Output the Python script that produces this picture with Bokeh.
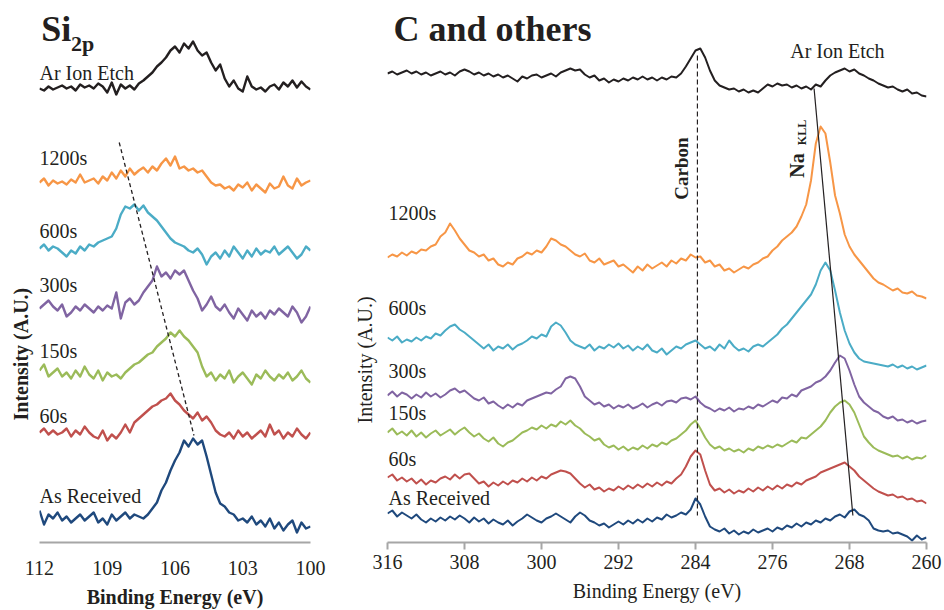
from math import pi
from bokeh.plotting import figure
from bokeh.layouts import row
from bokeh.models import Range1d, FixedTicker, Label, Title
from bokeh.embed import file_html
from bokeh.resources import INLINE

# ---------------- Si 2p panel data (binding energy in eV, intensity in A.U., stacked) -------------
si_energy = [112.0, 111.8, 111.6, 111.4, 111.2, 111.0, 110.8, 110.6, 110.4, 110.2,
             110.0, 109.8, 109.6, 109.4, 109.2, 109.0, 108.8, 108.6, 108.4, 108.2,
             108.0, 107.8, 107.6, 107.4, 107.2, 107.0, 106.8, 106.6, 106.4, 106.2,
             106.0, 105.8, 105.6, 105.4, 105.2, 105.0, 104.8, 104.6, 104.4, 104.2,
             104.0, 103.8, 103.6, 103.4, 103.2, 103.0, 102.8, 102.6, 102.4, 102.2,
             102.0, 101.8, 101.6, 101.4, 101.2, 101.0, 100.8, 100.6, 100.4, 100.2,
             100.0]
si_ar_etch = [512, 510, 514, 511, 513, 515, 512, 514, 510, 516,
              513, 515, 512, 517, 514, 508, 518, 506, 516, 512,
              515, 511, 517, 520, 524, 528, 534, 538, 543, 550,
              554, 548, 557, 552, 559, 550, 545, 548, 538, 530,
              536, 522, 514, 520, 512, 509, 524, 514, 511, 513,
              509, 514, 516, 511, 518, 514, 520, 513, 519, 514,
              511]
si_1200s = [418, 422, 415, 420, 417, 419, 416, 421, 418, 426,
            418, 420, 422, 417, 424, 420, 428, 422, 430, 424,
            432, 426, 430, 433, 428, 434, 430, 437, 442, 435,
            444, 432, 434, 430, 432, 428, 430, 424, 418, 415,
            416, 412, 414, 410, 416, 413, 418, 410, 416, 412,
            408, 417, 412, 414, 424, 415, 412, 422, 415, 418,
            420]
si_600s = [352, 356, 350, 354, 352, 348, 344, 350, 347, 354,
           350, 356, 354, 358, 360, 362, 364, 372, 386, 394,
           392, 396, 390, 395, 388, 384, 380, 374, 368, 362,
           358, 356, 354, 350, 348, 352, 346, 336, 344, 348,
           342, 350, 344, 354, 348, 342, 350, 344, 352, 346,
           350, 348, 354, 346, 350, 354, 348, 342, 346, 354,
           350]
si_300s = [292, 296, 300, 294, 290, 296, 284, 288, 294, 290,
           296, 292, 288, 294, 290, 295, 292, 308, 282, 298,
           302, 296, 300, 308, 314, 320, 334, 324, 328, 322,
           330, 326, 330, 320, 310, 302, 290, 296, 304, 294,
           290, 296, 288, 282, 292, 286, 280, 290, 284, 288,
           282, 290, 286, 292, 288, 284, 294, 288, 278, 284,
           294]
si_150s = [230, 236, 224, 228, 232, 224, 228, 222, 230, 224,
           234, 226, 222, 230, 220, 228, 224, 226, 222, 228,
           232, 236, 238, 242, 246, 248, 254, 258, 262, 268,
           264, 270, 264, 260, 254, 248, 234, 224, 228, 220,
           226, 222, 230, 218, 224, 228, 222, 216, 226, 222,
           230, 224, 220, 226, 222, 228, 220, 224, 230, 222,
           218]
si_60s = [168, 172, 166, 170, 166, 168, 172, 164, 170, 166,
          174, 168, 164, 162, 170, 160, 166, 162, 168, 176,
          168, 178, 182, 186, 190, 194, 196, 200, 202, 207,
          200, 196, 190, 186, 182, 188, 180, 184, 178, 170,
          166, 164, 168, 162, 170, 164, 168, 162, 166, 170,
          164, 176, 166, 170, 162, 168, 164, 172, 166, 162,
          168]
si_as_received = [90, 76, 86, 82, 88, 80, 84, 78, 82, 86,
                  80, 84, 88, 78, 82, 76, 86, 80, 84, 88,
                  82, 86, 84, 82, 86, 92, 98, 110, 118, 130,
                  140, 148, 160, 154, 162, 156, 160, 144, 126, 108,
                  97, 94, 88, 86, 80, 82, 78, 84, 76, 80,
                  74, 82, 72, 78, 70, 76, 80, 68, 78, 72,
                  74]
si_ticks = [112, 109, 106, 103, 100]
# peak-shift guide (energy, intensity) at its two ends
si_shift_energy = [108.47, 105.16]
si_shift_intensity = [458, 165]

# ---------------- C and others panel data -------------
c_energy = [316.0, 315.5, 315.0, 314.5, 314.0, 313.5, 313.0, 312.5, 312.0, 311.5,
            311.0, 310.5, 310.0, 309.5, 309.0, 308.5, 308.0, 307.5, 307.0, 306.5,
            306.0, 305.5, 305.0, 304.5, 304.0, 303.5, 303.0, 302.5, 302.0, 301.5,
            301.0, 300.5, 300.0, 299.5, 299.0, 298.5, 298.0, 297.5, 297.0, 296.5,
            296.0, 295.5, 295.0, 294.5, 294.0, 293.5, 293.0, 292.5, 292.0, 291.5,
            291.0, 290.5, 290.0, 289.5, 289.0, 288.5, 288.0, 287.5, 287.0, 286.5,
            286.0, 285.5, 285.0, 284.5, 284.0, 283.5, 283.0, 282.5, 282.0, 281.5,
            281.0, 280.5, 280.0, 279.5, 279.0, 278.5, 278.0, 277.5, 277.0, 276.5,
            276.0, 275.5, 275.0, 274.5, 274.0, 273.5, 273.0, 272.5, 272.0, 271.5,
            271.0, 270.5, 270.0, 269.5, 269.0, 268.5, 268.0, 267.5, 267.0, 266.5,
            266.0, 265.5, 265.0, 264.5, 264.0, 263.5, 263.0, 262.5, 262.0, 261.5,
            261.0, 260.5, 260.0]
c_ar_etch = [527, 529, 526, 528, 530, 527, 529, 526, 528, 525,
             527, 529, 526, 528, 525, 529, 531, 529, 526, 528,
             525, 527, 524, 526, 523, 525, 522, 519, 524, 522,
             525, 526, 523, 525, 527, 524, 528, 530, 532, 530,
             531, 526, 523, 525, 520, 522, 518, 521, 519, 522,
             520, 523, 521, 524, 521, 523, 520, 523, 521, 524,
             523, 527, 534, 542, 550, 552, 543, 530, 520, 515,
             513, 511, 512, 509, 511, 508, 510, 508, 512, 516,
             514, 517, 515, 516, 513, 515, 512, 514, 511, 516,
             514, 520, 525, 528, 530, 532, 529, 531, 527, 525,
             522, 520, 517, 515, 513, 514, 511, 509, 511, 507,
             508, 505, 504]
c_1200s = [343, 346, 344, 348, 345, 349, 347, 351, 350, 354,
           356, 364, 368, 377, 370, 362, 356, 350, 348, 344,
           346, 340, 342, 336, 334, 338, 336, 342, 344, 348,
           346, 350, 348, 354, 362, 360, 356, 354, 350, 346,
           344, 347, 340, 338, 342, 336, 338, 340, 334, 336,
           332, 328, 334, 330, 336, 332, 335, 338, 334, 340,
           337, 342, 340, 346, 343, 344, 338, 340, 334, 336,
           330, 332, 328, 331, 334, 332, 336, 338, 342, 344,
           350, 354, 360, 364, 368, 374, 384, 396, 420, 457,
           474, 467, 438, 405, 387, 366, 354, 346, 340, 334,
           328, 322, 318, 316, 313, 310, 312, 308, 307, 309,
           305, 304, 302]
c_600s = [263, 260, 264, 258, 261, 259, 263, 260, 264, 262,
          267, 265, 270, 274, 276, 271, 268, 264, 260, 256,
          252, 256, 250, 254, 252, 256, 251, 255, 257, 260,
          264, 262, 266, 264, 274, 278, 275, 268, 260, 256,
          254, 252, 256, 250, 254, 252, 256, 253, 257, 252,
          255, 250, 254, 251, 256, 250, 248, 252, 246, 250,
          254, 252, 256, 258, 260, 256, 252, 254, 250, 256,
          252, 260, 254, 250, 252, 249, 254, 256, 254, 258,
          262, 266, 272, 276, 282, 288, 294, 300, 306, 316,
          330, 338, 330, 310, 288, 270, 257, 248, 242, 239,
          238, 237, 236, 235, 234, 236, 233, 235, 232, 234,
          231, 233, 235]
c_300s = [205, 209, 204, 208, 206, 202, 206, 203, 208, 204,
          207, 203, 206, 210, 212, 208, 210, 206, 202, 200,
          203, 197, 199, 195, 192, 196, 193, 197, 195, 200,
          202, 204, 206, 208, 207, 211, 214, 222, 224, 222,
          214, 204, 200, 196, 198, 194, 196, 192, 195, 193,
          196, 192, 194, 197, 193, 196, 198, 195, 199, 200,
          198, 202, 203, 201, 204, 198, 194, 192, 189, 192,
          190, 193, 189, 192, 191, 194, 192, 196, 194, 197,
          200, 198, 203, 202, 206, 204, 210, 212, 214, 218,
          220, 224, 230, 238, 245, 242, 230, 216, 204, 198,
          194, 190, 188, 184, 182, 184, 180, 181, 178, 180,
          177, 179, 180]
c_150s = [168, 172, 166, 169, 165, 170, 164, 168, 163, 167,
          170, 165, 168, 171, 166, 170, 173, 168, 164, 167,
          162, 159, 163, 157, 154, 158, 160, 164, 168, 170,
          173, 171, 175, 172, 176, 174, 179, 176, 180, 175,
          172, 167, 164, 160, 162, 156, 153, 155, 151, 154,
          150, 153, 151, 155, 152, 156, 154, 158, 156, 160,
          162, 166, 170, 176, 180, 172, 163, 156, 152, 154,
          150, 152, 149, 151, 148, 152, 150, 154, 152, 155,
          153, 156, 154, 157, 160, 158, 163, 162, 166, 170,
          174, 180, 188, 194, 198, 200, 196, 188, 176, 164,
          158, 153, 150, 148, 146, 144, 145, 142, 144, 141,
          143, 142, 145]
c_60s = [123, 126, 120, 123, 119, 122, 117, 121, 116, 120,
         118, 122, 124, 121, 126, 122, 126, 127, 122, 117,
         119, 114, 118, 115, 119, 116, 120, 118, 122, 119,
         123, 120, 124, 122, 126, 128, 130, 129, 127, 122,
         117, 113, 116, 111, 113, 109, 112, 110, 114, 111,
         115, 112, 116, 113, 117, 114, 118, 115, 119, 117,
         122, 126, 134, 144, 150, 146, 130, 116, 110, 112,
         108, 111, 107, 110, 108, 112, 109, 113, 110, 114,
         111, 115, 112, 116, 114, 118, 116, 120, 122, 124,
         128, 130, 132, 134, 136, 138, 134, 130, 124, 120,
         116, 112, 109, 107, 105, 106, 103, 104, 101, 102,
         99, 100, 97]
c_as_received = [87, 90, 84, 88, 85, 82, 86, 81, 78, 82,
                 79, 83, 80, 84, 81, 85, 82, 78, 83, 79,
                 82, 77, 81, 78, 76, 80, 75, 79, 82, 86,
                 83, 80, 78, 82, 84, 87, 84, 81, 78, 84,
                 88, 85, 80, 78, 75, 77, 73, 76, 79, 76,
                 80, 77, 81, 78, 82, 79, 83, 81, 86, 83,
                 85, 88, 86, 91, 102, 96, 84, 74, 71, 69,
                 72, 67, 70, 66, 69, 67, 71, 68, 70, 72,
                 69, 73, 71, 75, 73, 77, 74, 78, 76, 80,
                 78, 82, 80, 84, 86, 83, 89, 91, 86, 84,
                 80, 72, 70, 69, 70, 67, 68, 66, 64, 60,
                 65, 61, 63]
c_ticks = [316, 308, 300, 292, 284, 276, 268, 260]
carbon_energy = [283.8, 283.8]
carbon_intensity = [545, 85]
na_kll_energy = [271.68, 267.65]
na_kll_intensity = [512, 85]

series_names = ["Ar Ion Etch", "1200s", "600s", "300s", "150s", "60s", "As Received"]
series_colors = ["#231f20", "#f79646", "#4bacc6", "#8064a2", "#9bbb59", "#c0504d", "#1f497d"]

SERIF = "Liberation Serif"
INK = "#231f20"
AXIS_GREY = "#a6a6a6"


def make_fig(width, x_start, x_end, border_left, border_right):
    p = figure(width=width, height=610,
               x_range=Range1d(x_start, x_end), y_range=Range1d(58, 590),
               output_backend="svg", toolbar_location=None,
               min_border_left=border_left, min_border_right=border_right,
               min_border_top=10, min_border_bottom=68)
    p.outline_line_color = None
    p.grid.visible = False
    p.yaxis.visible = False
    p.background_fill_color = "white"
    p.border_fill_color = "white"
    ax = p.xaxis[0]
    ax.axis_line_color = AXIS_GREY
    ax.axis_line_width = 2
    ax.minor_tick_line_color = None
    ax.major_label_text_font = SERIF
    ax.major_label_text_font_size = "20px"
    ax.major_label_text_color = INK
    ax.axis_label = "Binding Energy (eV)"
    ax.axis_label_text_font = SERIF
    ax.axis_label_text_font_size = "20px"
    ax.axis_label_text_font_style = "normal"
    ax.axis_label_text_color = INK
    ax.axis_label_standoff = 8
    return p


def add_label(p, x, y, text, size="20px", style="normal", align="left", angle=0.0):
    p.add_layout(Label(x=x, y=y, text=text, text_font=SERIF, text_font_size=size,
                       text_font_style=style, text_color=INK, text_align=align,
                       text_baseline="middle", angle=angle))


def add_side_title(p, text, style, offset, standoff):
    p.add_layout(Title(text=text, align="left", offset=offset, standoff=standoff,
                       text_font=SERIF, text_font_size="20px", text_font_style=style,
                       text_color=INK), "left")


# ---------------- left panel ----------------
p1 = make_fig(340, 112, 100, 38, 30)
ax1 = p1.xaxis[0]
ax1.ticker = FixedTicker(ticks=si_ticks)
ax1.major_tick_line_color = None
ax1.major_label_standoff = 12
ax1.axis_label_text_font_style = "bold"

si_series = [si_ar_etch, si_1200s, si_600s, si_300s, si_150s, si_60s, si_as_received]
for vals, col in zip(si_series, series_colors):
    p1.line(si_energy, vals, line_color=col, line_width=2.4, line_join="round")
p1.line(si_shift_energy, si_shift_intensity, line_color=INK, line_width=1.3, line_dash="4 3")

si_label_y = [528, 443, 370, 316, 250, 185, 105]
for name, yy in zip(series_names, si_label_y):
    add_label(p1, 112.0, yy, name)
add_label(p1, 111.92, 572, "Si", size="36px", style="bold")
add_label(p1, 110.6, 557, "2p", size="22px", style="bold")
add_side_title(p1, "Intensity (A.U.)", "bold", 122, 15)

# ---------------- right panel ----------------
p2 = make_fig(604, 316, 260, 44, 18)
ax2 = p2.xaxis[0]
ax2.ticker = FixedTicker(ticks=c_ticks)
ax2.major_tick_line_color = AXIS_GREY
ax2.major_tick_line_width = 2
ax2.major_tick_out = 7
ax2.major_tick_in = 0
ax2.major_label_standoff = 5

c_series = [c_ar_etch, c_1200s, c_600s, c_300s, c_150s, c_60s, c_as_received]
for vals, col in zip(c_series, series_colors):
    p2.line(c_energy, vals, line_color=col, line_width=2.0, line_join="round")
p2.line(carbon_energy, carbon_intensity, line_color=INK, line_width=1.2, line_dash="5 3")
p2.line(na_kll_energy, na_kll_intensity, line_color=INK, line_width=1.2)

add_label(p2, 274.16, 550, "Ar Ion Etch")
c_label_y = [388, 293, 230, 188, 142, 103]
for name, yy in zip(series_names[1:], c_label_y):
    add_label(p2, 315.9, yy, name)
add_label(p2, 315.38, 572, "C and others", size="36px", style="bold")
add_side_title(p2, "Intensity (A.U.)", "normal", 119, 23)
add_label(p2, 285.5, 432, "Carbon", size="19px", style="bold", align="center", angle=pi / 2)
add_label(p2, 273.44, 435, "Na", size="20px", style="bold", align="center", angle=pi / 2)
add_label(p2, 272.92, 468, "KLL", size="12px", style="bold", align="center", angle=pi / 2)

layout = row(p1, p2)
open("out.html", "w").write(file_html(layout, INLINE))
